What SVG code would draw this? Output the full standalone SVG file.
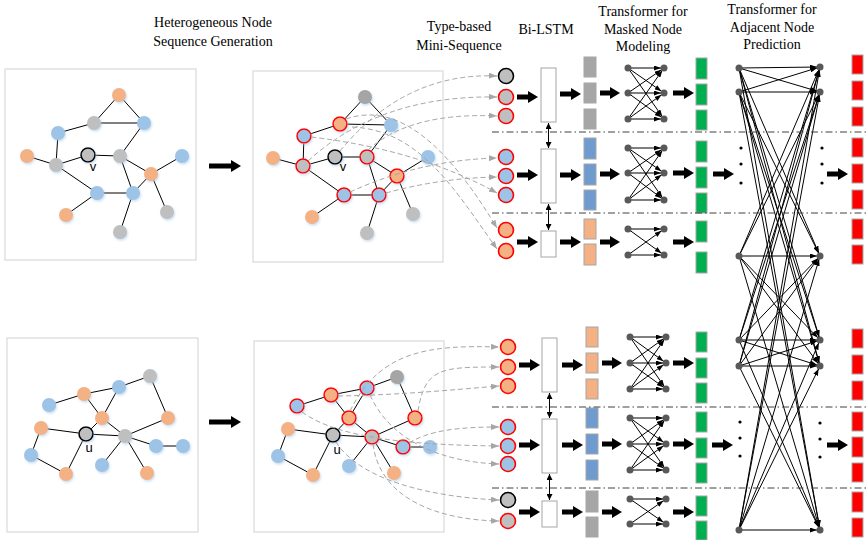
<svg xmlns="http://www.w3.org/2000/svg" width="868" height="540" viewBox="0 0 868 540">
<defs>
<style>
.t{font-family:"Liberation Serif","Times New Roman",serif;font-size:14px;fill:#000;text-anchor:middle}
.lb{font-family:"Liberation Sans",Arial,sans-serif;font-size:13px;fill:#000;text-anchor:middle}
.frame{fill:#fff;stroke:#d9d9d9;stroke-width:1.2}
.e line{stroke:#000;stroke-width:1}
.o{fill:#F4B183}
.b{fill:#9DC3E6}
.g{fill:#BFBFBF}
.gd{fill:#A5A5A5}
.hl{stroke:#FF0000;stroke-width:1.6}
.ctr{stroke:#000;stroke-width:1.6}
.nodes circle{filter:url(#sh)}
.big{stroke:#000;stroke-width:5;marker-end:url(#hd)}
.dash{fill:none;stroke:#A6A6A6;stroke-width:1;stroke-dasharray:5 3;marker-end:url(#gm)}
.sep{stroke:#404040;stroke-width:1;stroke-dasharray:7 3 1.5 3}
.lstm{fill:#fff;stroke:#A6A6A6;stroke-width:1}
.dbl{stroke:#000;stroke-width:1;marker-start:url(#dm);marker-end:url(#dm)}
.eg{fill:#A6A6A6;stroke:#A6A6A6}
.eb{fill:#6F9BCF;stroke:#A6A6A6}
.eo{fill:#F4B183;stroke:#A6A6A6}
.gr{fill:#00B050;stroke:#A6A6A6}
.rd{fill:#FF0000;stroke:#A6A6A6}
.tn{fill:#595959}
.tx line{stroke:#000;stroke-width:1;marker-end:url(#sm)}
.dot{fill:#000}
</style>
<filter id="sh" x="-50%" y="-50%" width="200%" height="200%">
<feDropShadow dx="1" dy="1.5" stdDeviation="1.2" flood-color="#9DC3E6" flood-opacity="0.55"/>
</filter>
<marker id="hd" markerUnits="userSpaceOnUse" markerWidth="10" markerHeight="12" refX="0" refY="6" orient="auto"><path d="M0,0 L10,6 L0,12 z" fill="#000"/></marker>
<marker id="sm" markerUnits="userSpaceOnUse" markerWidth="7" markerHeight="5" refX="10" refY="2.5" orient="auto"><path d="M0,0 L7,2.5 L0,5 z" fill="#000"/></marker>
<marker id="gm" markerUnits="userSpaceOnUse" markerWidth="8" markerHeight="6" refX="8" refY="3" orient="auto"><path d="M0,0 L8,3 L0,6 z" fill="#A6A6A6"/></marker>
<marker id="dm" markerUnits="userSpaceOnUse" markerWidth="6" markerHeight="6" refX="6" refY="3" orient="auto-start-reverse"><path d="M0,0 L6,3 L0,6 z" fill="#000"/></marker>
</defs>
<rect width="868" height="540" fill="#fff"/>

<!-- column headings -->
<g id="headings">
<text class="t" x="213" y="27">Heterogeneous Node</text>
<text class="t" x="213" y="46">Sequence Generation</text>
<text class="t" x="459" y="31">Type-based</text>
<text class="t" x="459" y="50">Mini-Sequence</text>
<text class="t" x="546" y="34">Bi-LSTM</text>
<text class="t" x="643" y="16">Transformer for</text>
<text class="t" x="643" y="34">Masked Node</text>
<text class="t" x="643" y="51">Modeling</text>
<text class="t" x="772" y="14">Transformer for</text>
<text class="t" x="772" y="32">Adjacent Node</text>
<text class="t" x="772" y="49">Prediction</text>
</g>

<!-- input graph around v -->
<g id="graph-v">
<rect class="frame" x="5" y="69" width="191" height="191"/>
<g class="e">
<line x1="119" y1="95" x2="94" y2="123"/><line x1="119" y1="95" x2="144" y2="123"/><line x1="94" y1="123" x2="144" y2="123"/>
<line x1="94" y1="123" x2="58" y2="133"/><line x1="58" y1="133" x2="56" y2="165"/><line x1="27" y1="156" x2="56" y2="165"/>
<line x1="56" y1="165" x2="88" y2="155"/><line x1="88" y1="155" x2="120" y2="156"/><line x1="120" y1="156" x2="144" y2="123"/>
<line x1="120" y1="156" x2="151" y2="174"/><line x1="120" y1="156" x2="133" y2="193"/><line x1="151" y1="174" x2="182" y2="156"/>
<line x1="151" y1="174" x2="167" y2="212"/><line x1="151" y1="174" x2="133" y2="193"/><line x1="56" y1="165" x2="97" y2="193"/>
<line x1="97" y1="193" x2="133" y2="193"/><line x1="97" y1="193" x2="66" y2="215"/><line x1="133" y1="193" x2="120" y2="232"/>
</g>
<g class="nodes">
<circle class="o" cx="119" cy="95" r="7"/><circle class="g" cx="94" cy="123" r="7"/><circle class="b" cx="144" cy="123" r="7"/>
<circle class="b" cx="58" cy="133" r="7"/><circle class="o" cx="27" cy="156" r="7"/><circle class="g" cx="56" cy="165" r="7"/>
<circle class="g ctr" cx="88" cy="155" r="7"/><circle class="g" cx="120" cy="156" r="7"/><circle class="b" cx="182" cy="156" r="7"/>
<circle class="o" cx="151" cy="174" r="7"/><circle class="b" cx="97" cy="193" r="7"/><circle class="b" cx="133" cy="193" r="7"/>
<circle class="o" cx="66" cy="215" r="7"/><circle class="g" cx="167" cy="212" r="7"/><circle class="g" cx="120" cy="232" r="7"/>
</g>
<text class="lb" x="93" y="171">v</text>
</g>

<!-- sampled sequence around v -->
<g id="seq-v">
<rect class="frame" x="253" y="71" width="190" height="191"/>
<g class="e">
<line x1="365" y1="97" x2="340" y2="124"/><line x1="365" y1="97" x2="391" y2="125"/><line x1="340" y1="124" x2="391" y2="125"/>
<line x1="340" y1="124" x2="304" y2="136"/><line x1="304" y1="136" x2="303" y2="166"/><line x1="273" y1="158" x2="303" y2="166"/>
<line x1="303" y1="166" x2="335" y2="157"/><line x1="335" y1="157" x2="367" y2="157"/><line x1="367" y1="157" x2="391" y2="125"/>
<line x1="367" y1="157" x2="397" y2="176"/><line x1="367" y1="157" x2="379" y2="195"/><line x1="397" y1="176" x2="428" y2="157"/>
<line x1="397" y1="176" x2="413" y2="214"/><line x1="397" y1="176" x2="379" y2="195"/><line x1="303" y1="166" x2="344" y2="195"/>
<line x1="344" y1="195" x2="379" y2="195"/><line x1="344" y1="195" x2="312" y2="217"/><line x1="379" y1="195" x2="367" y2="233"/>
</g>
<g class="nodes">
<circle class="gd" cx="365" cy="97" r="7"/><circle class="o hl" cx="340" cy="124" r="7"/><circle class="b" cx="391" cy="125" r="7"/>
<circle class="b hl" cx="304" cy="136" r="7"/><circle class="o" cx="273" cy="158" r="7"/><circle class="g hl" cx="303" cy="166" r="7"/>
<circle class="g ctr" cx="335" cy="157" r="7"/><circle class="g hl" cx="367" cy="157" r="7"/><circle class="b" cx="428" cy="157" r="7"/>
<circle class="o hl" cx="397" cy="176" r="7"/><circle class="b hl" cx="344" cy="195" r="7"/><circle class="b hl" cx="379" cy="195" r="7"/>
<circle class="o" cx="312" cy="217" r="7"/><circle class="g" cx="413" cy="214" r="7"/><circle class="g" cx="367" cy="233" r="7"/>
</g>
<text class="lb" x="343" y="171">v</text>
</g>

<!-- input graph around u -->
<g id="graph-u">
<rect class="frame" x="7" y="338" width="191" height="194"/>
<g class="e">
<line x1="150" y1="376" x2="119" y2="387"/><line x1="150" y1="376" x2="168" y2="418"/><line x1="119" y1="387" x2="84" y2="394"/>
<line x1="119" y1="387" x2="102" y2="418"/><line x1="84" y1="394" x2="49" y2="405"/><line x1="84" y1="394" x2="102" y2="418"/>
<line x1="102" y1="418" x2="125" y2="436"/><line x1="102" y1="418" x2="86" y2="434"/><line x1="125" y1="436" x2="168" y2="418"/>
<line x1="125" y1="436" x2="156" y2="446"/><line x1="156" y1="446" x2="183" y2="446"/><line x1="125" y1="436" x2="102" y2="465"/>
<line x1="125" y1="436" x2="147" y2="473"/><line x1="41" y1="428" x2="86" y2="434"/><line x1="41" y1="428" x2="31" y2="455"/>
<line x1="31" y1="455" x2="66" y2="474"/><line x1="66" y1="474" x2="86" y2="434"/><line x1="86" y1="434" x2="125" y2="436"/>
</g>
<g class="nodes">
<circle class="g" cx="150" cy="376" r="7"/><circle class="b" cx="119" cy="387" r="7"/><circle class="o" cx="84" cy="394" r="7"/>
<circle class="b" cx="49" cy="405" r="7"/><circle class="o" cx="102" cy="418" r="7"/><circle class="o" cx="168" cy="418" r="7"/>
<circle class="o" cx="41" cy="428" r="7"/><circle class="g ctr" cx="86" cy="434" r="7"/><circle class="g" cx="125" cy="436" r="7"/>
<circle class="b" cx="156" cy="446" r="7"/><circle class="b" cx="183" cy="446" r="7"/><circle class="b" cx="31" cy="455" r="7"/>
<circle class="b" cx="102" cy="465" r="7"/><circle class="o" cx="66" cy="474" r="7"/><circle class="o" cx="147" cy="473" r="7"/>
</g>
<text class="lb" x="89" y="452">u</text>
</g>

<!-- sampled sequence around u -->
<g id="seq-u">
<rect class="frame" x="254" y="341" width="190" height="191"/>
<g class="e">
<line x1="397" y1="377" x2="367" y2="388"/><line x1="397" y1="377" x2="415" y2="418"/><line x1="367" y1="388" x2="331" y2="395"/>
<line x1="367" y1="388" x2="349" y2="418"/><line x1="331" y1="395" x2="297" y2="406"/><line x1="331" y1="395" x2="349" y2="418"/>
<line x1="349" y1="418" x2="372" y2="437"/><line x1="349" y1="418" x2="333" y2="435"/><line x1="372" y1="437" x2="415" y2="418"/>
<line x1="372" y1="437" x2="403" y2="447"/><line x1="403" y1="447" x2="430" y2="447"/><line x1="372" y1="437" x2="349" y2="466"/>
<line x1="372" y1="437" x2="394" y2="473"/><line x1="288" y1="429" x2="333" y2="435"/><line x1="288" y1="429" x2="278" y2="456"/>
<line x1="278" y1="456" x2="313" y2="475"/><line x1="313" y1="475" x2="333" y2="435"/><line x1="333" y1="435" x2="372" y2="437"/>
</g>
<g class="nodes">
<circle class="gd" cx="397" cy="377" r="7"/><circle class="b hl" cx="367" cy="388" r="7"/><circle class="o hl" cx="331" cy="395" r="7"/>
<circle class="b hl" cx="297" cy="406" r="7"/><circle class="o hl" cx="349" cy="418" r="7"/><circle class="o hl" cx="415" cy="418" r="7"/>
<circle class="o" cx="288" cy="429" r="7"/><circle class="g ctr" cx="333" cy="435" r="7"/><circle class="g hl" cx="372" cy="437" r="7"/>
<circle class="b hl" cx="403" cy="447" r="7"/><circle class="b" cx="430" cy="447" r="7"/><circle class="b" cx="278" cy="456" r="7"/>
<circle class="b" cx="349" cy="466" r="7"/><circle class="o" cx="313" cy="475" r="7"/><circle class="o" cx="394" cy="473" r="7"/>
</g>
<text class="lb" x="337" y="454">u</text>
</g>

<!-- type-based mini-sequences -->
<g id="mini-v">
<circle class="g ctr" cx="506" cy="76" r="7.5"/><circle class="g hl" cx="506" cy="97" r="7.5"/><circle class="g hl" cx="506" cy="116" r="7.5"/>
<circle class="b hl" cx="506" cy="157" r="7.5"/><circle class="b hl" cx="506" cy="176" r="7.5"/><circle class="b hl" cx="506" cy="195" r="7.5"/>
<circle class="o hl" cx="506" cy="230" r="7.5"/><circle class="o hl" cx="506" cy="251" r="7.5"/>
</g>
<g id="mini-u">
<circle class="o hl" cx="508" cy="347" r="7.5"/><circle class="o hl" cx="508" cy="367" r="7.5"/><circle class="o hl" cx="508" cy="386" r="7.5"/>
<circle class="b hl" cx="508" cy="427" r="7.5"/><circle class="b hl" cx="508" cy="446" r="7.5"/><circle class="b hl" cx="508" cy="464" r="7.5"/>
<circle class="g ctr" cx="508" cy="500" r="7.5"/><circle class="g hl" cx="508" cy="521" r="7.5"/>
</g>

<!-- Bi-LSTM cells -->
<g id="lstm-v">
<rect class="lstm" x="541" y="68" width="15" height="54"/>
<rect class="lstm" x="541" y="149" width="15" height="54"/>
<rect class="lstm" x="541" y="231" width="15" height="26"/>
</g>
<g id="lstm-u">
<rect class="lstm" x="542" y="338" width="15" height="54"/>
<rect class="lstm" x="542" y="419" width="15" height="54"/>
<rect class="lstm" x="542" y="501" width="15" height="26"/>
</g>

<!-- type embeddings -->
<g id="emb-v">
<rect class="eg" x="584" y="57" width="12" height="20"/><rect class="eg" x="584" y="83" width="12" height="20"/><rect class="eg" x="584" y="109" width="12" height="20"/>
<rect class="eb" x="584" y="138" width="12" height="21"/><rect class="eb" x="584" y="164" width="12" height="21"/><rect class="eb" x="584" y="190" width="12" height="20"/>
<rect class="eo" x="584" y="219" width="12" height="20"/><rect class="eo" x="584" y="244" width="12" height="21"/>
</g>
<g id="emb-u">
<rect class="eo" x="586" y="327" width="12" height="20"/><rect class="eo" x="586" y="353" width="12" height="20"/><rect class="eo" x="586" y="379" width="12" height="20"/>
<rect class="eb" x="586" y="408" width="12" height="20"/><rect class="eb" x="586" y="434" width="12" height="20"/><rect class="eb" x="586" y="460" width="12" height="20"/>
<rect class="eg" x="586" y="491" width="12" height="21"/><rect class="eg" x="586" y="517" width="12" height="20"/>
</g>

<!-- masked node transformers -->
<g id="mask-v">
<g class="tx">
<line x1="628" y1="68" x2="664" y2="68"/><line x1="628" y1="68" x2="664" y2="93"/><line x1="628" y1="68" x2="664" y2="119"/>
<line x1="628" y1="93" x2="664" y2="68"/><line x1="628" y1="93" x2="664" y2="93"/><line x1="628" y1="93" x2="664" y2="119"/>
<line x1="628" y1="119" x2="664" y2="68"/><line x1="628" y1="119" x2="664" y2="93"/><line x1="628" y1="119" x2="664" y2="119"/>
<line x1="628" y1="148" x2="664" y2="148"/><line x1="628" y1="148" x2="664" y2="173"/><line x1="628" y1="148" x2="664" y2="200"/>
<line x1="628" y1="173" x2="664" y2="148"/><line x1="628" y1="173" x2="664" y2="173"/><line x1="628" y1="173" x2="664" y2="200"/>
<line x1="628" y1="200" x2="664" y2="148"/><line x1="628" y1="200" x2="664" y2="173"/><line x1="628" y1="200" x2="664" y2="200"/>
<line x1="628" y1="229" x2="664" y2="229"/><line x1="628" y1="229" x2="664" y2="255"/>
<line x1="628" y1="255" x2="664" y2="229"/><line x1="628" y1="255" x2="664" y2="255"/>
</g>
<g class="tn">
<circle cx="628" cy="68" r="3.5"/><circle cx="628" cy="93" r="3.5"/><circle cx="628" cy="119" r="3.5"/>
<circle cx="664" cy="68" r="3.5"/><circle cx="664" cy="93" r="3.5"/><circle cx="664" cy="119" r="3.5"/>
<circle cx="628" cy="148" r="3.5"/><circle cx="628" cy="173" r="3.5"/><circle cx="628" cy="200" r="3.5"/>
<circle cx="664" cy="148" r="3.5"/><circle cx="664" cy="173" r="3.5"/><circle cx="664" cy="200" r="3.5"/>
<circle cx="628" cy="229" r="3.5"/><circle cx="628" cy="255" r="3.5"/>
<circle cx="664" cy="229" r="3.5"/><circle cx="664" cy="255" r="3.5"/>
</g>
</g>
<g id="mask-u">
<g class="tx">
<line x1="630" y1="337" x2="666" y2="337"/><line x1="630" y1="337" x2="666" y2="363"/><line x1="630" y1="337" x2="666" y2="389"/>
<line x1="630" y1="363" x2="666" y2="337"/><line x1="630" y1="363" x2="666" y2="363"/><line x1="630" y1="363" x2="666" y2="389"/>
<line x1="630" y1="389" x2="666" y2="337"/><line x1="630" y1="389" x2="666" y2="363"/><line x1="630" y1="389" x2="666" y2="389"/>
<line x1="630" y1="418" x2="666" y2="418"/><line x1="630" y1="418" x2="666" y2="444"/><line x1="630" y1="418" x2="666" y2="470"/>
<line x1="630" y1="444" x2="666" y2="418"/><line x1="630" y1="444" x2="666" y2="444"/><line x1="630" y1="444" x2="666" y2="470"/>
<line x1="630" y1="470" x2="666" y2="418"/><line x1="630" y1="470" x2="666" y2="444"/><line x1="630" y1="470" x2="666" y2="470"/>
<line x1="630" y1="499" x2="666" y2="499"/><line x1="630" y1="499" x2="666" y2="524"/>
<line x1="630" y1="524" x2="666" y2="499"/><line x1="630" y1="524" x2="666" y2="524"/>
</g>
<g class="tn">
<circle cx="630" cy="337" r="3.5"/><circle cx="630" cy="363" r="3.5"/><circle cx="630" cy="389" r="3.5"/>
<circle cx="666" cy="337" r="3.5"/><circle cx="666" cy="363" r="3.5"/><circle cx="666" cy="389" r="3.5"/>
<circle cx="630" cy="418" r="3.5"/><circle cx="630" cy="444" r="3.5"/><circle cx="630" cy="470" r="3.5"/>
<circle cx="666" cy="418" r="3.5"/><circle cx="666" cy="444" r="3.5"/><circle cx="666" cy="470" r="3.5"/>
<circle cx="630" cy="499" r="3.5"/><circle cx="630" cy="524" r="3.5"/>
<circle cx="666" cy="499" r="3.5"/><circle cx="666" cy="524" r="3.5"/>
</g>
</g>

<!-- masked node outputs -->
<g id="out-mask">
<rect class="gr" x="696" y="58" width="11" height="21"/><rect class="gr" x="696" y="84" width="11" height="21"/><rect class="gr" x="696" y="110" width="11" height="20"/>
<rect class="gr" x="696" y="141" width="11" height="21"/><rect class="gr" x="696" y="167" width="11" height="21"/><rect class="gr" x="696" y="193" width="11" height="20"/>
<rect class="gr" x="696" y="221" width="11" height="21"/><rect class="gr" x="696" y="252" width="11" height="21"/>
<rect class="gr" x="696" y="332" width="11" height="20"/><rect class="gr" x="696" y="358" width="11" height="20"/><rect class="gr" x="696" y="383" width="11" height="20"/>
<rect class="gr" x="696" y="412" width="11" height="20"/><rect class="gr" x="696" y="438" width="11" height="20"/><rect class="gr" x="696" y="463" width="11" height="20"/>
<rect class="gr" x="696" y="496" width="11" height="20"/><rect class="gr" x="696" y="521" width="11" height="19"/>
</g>

<!-- adjacent node prediction transformer -->
<g id="adjacent">
<g class="tx">
<line x1="739" y1="68" x2="820" y2="67"/><line x1="739" y1="68" x2="820" y2="92"/><line x1="739" y1="68" x2="820" y2="256"/><line x1="739" y1="68" x2="820" y2="340"/><line x1="739" y1="68" x2="820" y2="366"/><line x1="739" y1="68" x2="820" y2="530"/>
<line x1="739" y1="92" x2="820" y2="67"/><line x1="739" y1="92" x2="820" y2="92"/><line x1="739" y1="92" x2="820" y2="256"/><line x1="739" y1="92" x2="820" y2="340"/><line x1="739" y1="92" x2="820" y2="366"/><line x1="739" y1="92" x2="820" y2="530"/>
<line x1="739" y1="256" x2="820" y2="67"/><line x1="739" y1="256" x2="820" y2="92"/><line x1="739" y1="256" x2="820" y2="256"/><line x1="739" y1="256" x2="820" y2="340"/><line x1="739" y1="256" x2="820" y2="366"/><line x1="739" y1="256" x2="820" y2="530"/>
<line x1="739" y1="340" x2="820" y2="67"/><line x1="739" y1="340" x2="820" y2="92"/><line x1="739" y1="340" x2="820" y2="256"/><line x1="739" y1="340" x2="820" y2="340"/><line x1="739" y1="340" x2="820" y2="366"/><line x1="739" y1="340" x2="820" y2="530"/>
<line x1="739" y1="366" x2="820" y2="67"/><line x1="739" y1="366" x2="820" y2="92"/><line x1="739" y1="366" x2="820" y2="256"/><line x1="739" y1="366" x2="820" y2="340"/><line x1="739" y1="366" x2="820" y2="366"/><line x1="739" y1="366" x2="820" y2="530"/>
<line x1="739" y1="530" x2="820" y2="67"/><line x1="739" y1="530" x2="820" y2="92"/><line x1="739" y1="530" x2="820" y2="256"/><line x1="739" y1="530" x2="820" y2="340"/><line x1="739" y1="530" x2="820" y2="366"/><line x1="739" y1="530" x2="820" y2="530"/>
</g>
<g class="tn">
<circle cx="739" cy="68" r="3.5"/><circle cx="739" cy="92" r="3.5"/><circle cx="739" cy="256" r="3.5"/><circle cx="739" cy="340" r="3.5"/><circle cx="739" cy="366" r="3.5"/><circle cx="739" cy="530" r="3.5"/>
<circle cx="820" cy="67" r="3.5"/><circle cx="820" cy="92" r="3.5"/><circle cx="820" cy="256" r="3.5"/><circle cx="820" cy="340" r="3.5"/><circle cx="820" cy="366" r="3.5"/><circle cx="820" cy="530" r="3.5"/>
</g>
<g class="dot">
<circle cx="741" cy="148" r="1.6"/><circle cx="741" cy="164" r="1.6"/><circle cx="741" cy="183" r="1.6"/>
<circle cx="822" cy="148" r="1.6"/><circle cx="822" cy="164" r="1.6"/><circle cx="822" cy="183" r="1.6"/>
<circle cx="740" cy="422" r="1.6"/><circle cx="740" cy="438" r="1.6"/><circle cx="740" cy="456" r="1.6"/>
<circle cx="820" cy="423" r="1.6"/><circle cx="820" cy="439" r="1.6"/><circle cx="820" cy="457" r="1.6"/>
</g>
</g>

<!-- adjacent prediction outputs -->
<g id="out-adj">
<rect class="rd" x="852" y="55" width="11" height="19"/><rect class="rd" x="852" y="81" width="11" height="19"/><rect class="rd" x="852" y="107" width="11" height="19"/>
<rect class="rd" x="852" y="138" width="11" height="19"/><rect class="rd" x="852" y="164" width="11" height="19"/><rect class="rd" x="852" y="190" width="11" height="19"/>
<rect class="rd" x="852" y="219" width="11" height="20"/><rect class="rd" x="852" y="245" width="11" height="19"/>
<rect class="rd" x="852" y="329" width="11" height="19"/><rect class="rd" x="852" y="355" width="11" height="19"/><rect class="rd" x="852" y="381" width="11" height="19"/>
<rect class="rd" x="852" y="412" width="11" height="19"/><rect class="rd" x="852" y="437" width="11" height="20"/><rect class="rd" x="852" y="463" width="11" height="19"/>
<rect class="rd" x="852" y="492" width="11" height="20"/><rect class="rd" x="852" y="518" width="11" height="19"/>
</g>

<!-- type separators -->
<g id="separators">
<line class="sep" x1="492" y1="132" x2="868" y2="132"/>
<line class="sep" x1="492" y1="213" x2="868" y2="213"/>
<line class="sep" x1="492" y1="407" x2="868" y2="407"/>
<line class="sep" x1="492" y1="488" x2="868" y2="488"/>
</g>

<!-- connectors -->
<g id="connectors">
<!-- graph to sequence -->
<line class="big" x1="209" y1="166" x2="231" y2="166"/>
<line class="big" x1="209" y1="422" x2="231" y2="422"/>
<!-- sequence nodes to mini-sequences (v) -->
<path class="dash" d="M340,151 Q405,72 497,76"/>
<path class="dash" d="M308,161 Q380,95 497,97"/>
<path class="dash" d="M368,150 Q410,112 497,116"/>
<path class="dash" d="M311,137 Q420,150 497,193"/>
<path class="dash" d="M350,192 Q420,160 497,158"/>
<path class="dash" d="M386,193 Q440,178 497,177"/>
<path class="dash" d="M346,119 C400,100 450,150 497,228"/>
<path class="dash" d="M352,127 C420,130 455,190 497,249"/>
<!-- sequence nodes to mini-sequences (u) -->
<path class="dash" d="M350,411 C380,350 430,345 499,347"/>
<path class="dash" d="M418,411 C425,368 440,367 499,367"/>
<path class="dash" d="M338,396 C400,395 450,390 499,386"/>
<path class="dash" d="M409,443 C430,430 460,427 499,427"/>
<path class="dash" d="M302,412 C340,440 420,445 499,446"/>
<path class="dash" d="M370,395 C390,440 440,462 499,464"/>
<path class="dash" d="M336,442 C360,480 430,497 499,500"/>
<path class="dash" d="M373,444 C380,500 440,520 499,521"/>
<!-- into Bi-LSTM -->
<line class="big" x1="517" y1="97" x2="528" y2="97"/>
<line class="big" x1="517" y1="175" x2="528" y2="175"/>
<line class="big" x1="517" y1="242" x2="528" y2="242"/>
<line class="big" x1="519" y1="365" x2="530" y2="365"/>
<line class="big" x1="519" y1="445" x2="530" y2="445"/>
<line class="big" x1="519" y1="512" x2="530" y2="512"/>
<!-- Bi-LSTM links -->
<line class="dbl" x1="548.5" y1="123" x2="548.5" y2="148"/>
<line class="dbl" x1="548.5" y1="204" x2="548.5" y2="230"/>
<line class="dbl" x1="549.5" y1="393" x2="549.5" y2="418"/>
<line class="dbl" x1="549.5" y1="474" x2="549.5" y2="500"/>
<!-- Bi-LSTM to embeddings -->
<line class="big" x1="560" y1="94" x2="571" y2="94"/>
<line class="big" x1="560" y1="175" x2="571" y2="175"/>
<line class="big" x1="560" y1="242" x2="571" y2="242"/>
<line class="big" x1="562" y1="365" x2="573" y2="365"/>
<line class="big" x1="562" y1="445" x2="573" y2="445"/>
<line class="big" x1="562" y1="512" x2="573" y2="512"/>
<!-- embeddings to transformer -->
<line class="big" x1="600" y1="93" x2="610" y2="93"/>
<line class="big" x1="600" y1="174" x2="610" y2="174"/>
<line class="big" x1="600" y1="242" x2="610" y2="242"/>
<line class="big" x1="602" y1="363" x2="612" y2="363"/>
<line class="big" x1="602" y1="444" x2="612" y2="444"/>
<line class="big" x1="602" y1="512" x2="612" y2="512"/>
<!-- transformer to outputs -->
<line class="big" x1="673" y1="93" x2="684" y2="93"/>
<line class="big" x1="673" y1="173" x2="684" y2="173"/>
<line class="big" x1="673" y1="242" x2="684" y2="242"/>
<line class="big" x1="673" y1="363" x2="684" y2="363"/>
<line class="big" x1="673" y1="444" x2="684" y2="444"/>
<line class="big" x1="673" y1="512" x2="684" y2="512"/>
<!-- into adjacent transformer -->
<line class="big" x1="713" y1="174" x2="724" y2="174"/>
<line class="big" x1="712" y1="445" x2="723" y2="445"/>
<!-- to adjacent outputs -->
<line class="big" x1="827" y1="174" x2="838" y2="174"/>
<line class="big" x1="827" y1="445" x2="838" y2="445"/>
</g>
</svg>
